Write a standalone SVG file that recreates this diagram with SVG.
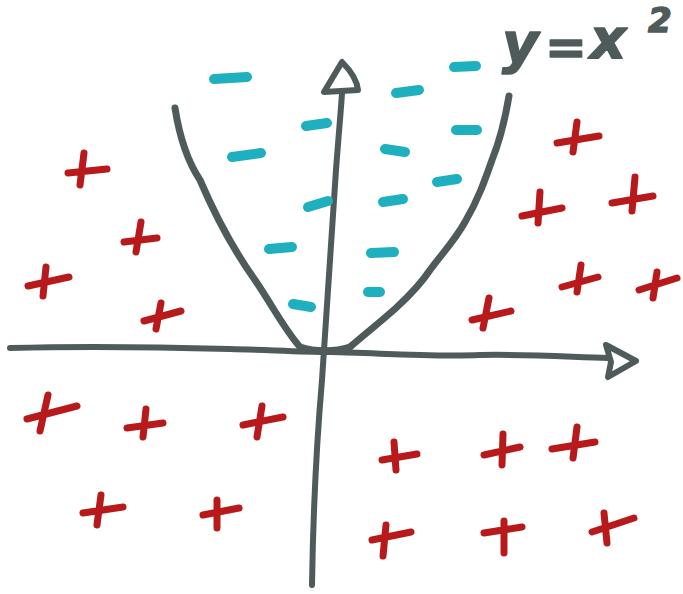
<svg xmlns="http://www.w3.org/2000/svg" width="683" height="594" viewBox="0 0 683 594">
<style>
.ax{fill:none;stroke:#4f5b5b;stroke-width:6;stroke-linecap:round;stroke-linejoin:round}
.cv{fill:none;stroke:#4f5b5b;stroke-width:7;stroke-linecap:round;stroke-linejoin:round}
.p{fill:none;stroke:#b81a1c;stroke-width:7;stroke-linecap:round}
.m{fill:none;stroke:#1fb0bf;stroke-width:10;stroke-linecap:round}
.lbl{font-family:"DejaVu Sans","Liberation Sans",sans-serif;font-style:italic;font-weight:bold;fill:#4f5b5b;stroke:#4f5b5b;stroke-width:1.5;stroke-linejoin:round}
</style>
<rect width="683" height="594" fill="#ffffff"/>
<g id="axes">
<path class="ax" d="M10,348 C80,346 160,347 230,349 C270,350 300,352 330,352 C380,353 430,357 480,355 C530,354 570,357 608,358"/>
<path class="ax" d="M606,345 L636,361 L608,377 L611,362 Z"/>
<path class="ax" d="M312,585 C313,520 316,450 322,380 C327,300 332,230 336,170 C339,130 341,110 342,93"/>
<path class="ax" d="M342,62 L324,92 L358,90 C357,80 350,70 342,62 Z"/>
</g>
<g id="parabola">
<path class="cv" d="M175,108 C180,140 188,162 200,180 C215,215 235,252 255,280 C275,310 285,330 300,347 C315,352 335,352 350,347 C370,330 385,318 397,307 C410,295 420,285 430,270 C445,250 455,240 465,222 C478,200 485,180 492,160 C500,140 505,120 509,96"/>
</g>
<g id="label">
<text class="lbl" font-size="56"><tspan x="502" y="62">y</tspan><tspan x="545" y="64" font-size="50">=</tspan><tspan x="590" y="58">x</tspan><tspan x="648" y="32" font-size="34">2</tspan></text>
</g>
<g id="minus">
<path class="m" d="M214,79 L247,77"/>
<path class="m" d="M454,67 L476,66"/>
<path class="m" d="M396,93 L419,90"/>
<path class="m" d="M306,126 L327,123"/>
<path class="m" d="M456,130 L477,130"/>
<path class="m" d="M232,157 L261,153"/>
<path class="m" d="M385,149 L405,152"/>
<path class="m" d="M437,182 L457,179"/>
<path class="m" d="M308,207 L328,201"/>
<path class="m" d="M383,202 L403,199"/>
<path class="m" d="M269,249 L292,247"/>
<path class="m" d="M371,253 L394,252"/>
<path class="m" d="M368,292 L380,292"/>
<path class="m" d="M293,304 L311,307"/>
</g>
<g id="plus">
<path class="p" d="M68,173 L107,169 M84,153 L80,185"/>
<path class="p" d="M124,242 L157,238 M141,222 L136,252"/>
<path class="p" d="M28,286 L69,277 M46,267 L43,296"/>
<path class="p" d="M144,321 L181,311 M161,303 L156,329"/>
<path class="p" d="M557,143 L599,136 M577,122 L573,152"/>
<path class="p" d="M522,216 L562,208 M540,192 L538,223"/>
<path class="p" d="M612,203 L653,196 M635,177 L632,211"/>
<path class="p" d="M562,287 L598,277 M581,265 L577,292"/>
<path class="p" d="M639,290 L677,278 M657,272 L653,298"/>
<path class="p" d="M472,320 L511,311 M489,298 L483,328"/>
<path class="p" d="M27,419 L77,406 M48,395 L40,431"/>
<path class="p" d="M127,428 L163,423 M146,409 L143,437"/>
<path class="p" d="M243,425 L283,417 M262,406 L257,437"/>
<path class="p" d="M83,513 L123,507 M101,495 L97,525"/>
<path class="p" d="M203,515 L239,508 M217,500 L217,528"/>
<path class="p" d="M382,460 L417,454 M394,442 L396,470"/>
<path class="p" d="M484,455 L520,447 M503,434 L502,465"/>
<path class="p" d="M552,449 L595,442 M577,427 L573,458"/>
<path class="p" d="M372,540 L411,532 M386,525 L383,556"/>
<path class="p" d="M484,533 L522,527 M504,521 L504,553"/>
<path class="p" d="M592,532 L634,518 M604,513 L607,543"/>
</g>
</svg>
